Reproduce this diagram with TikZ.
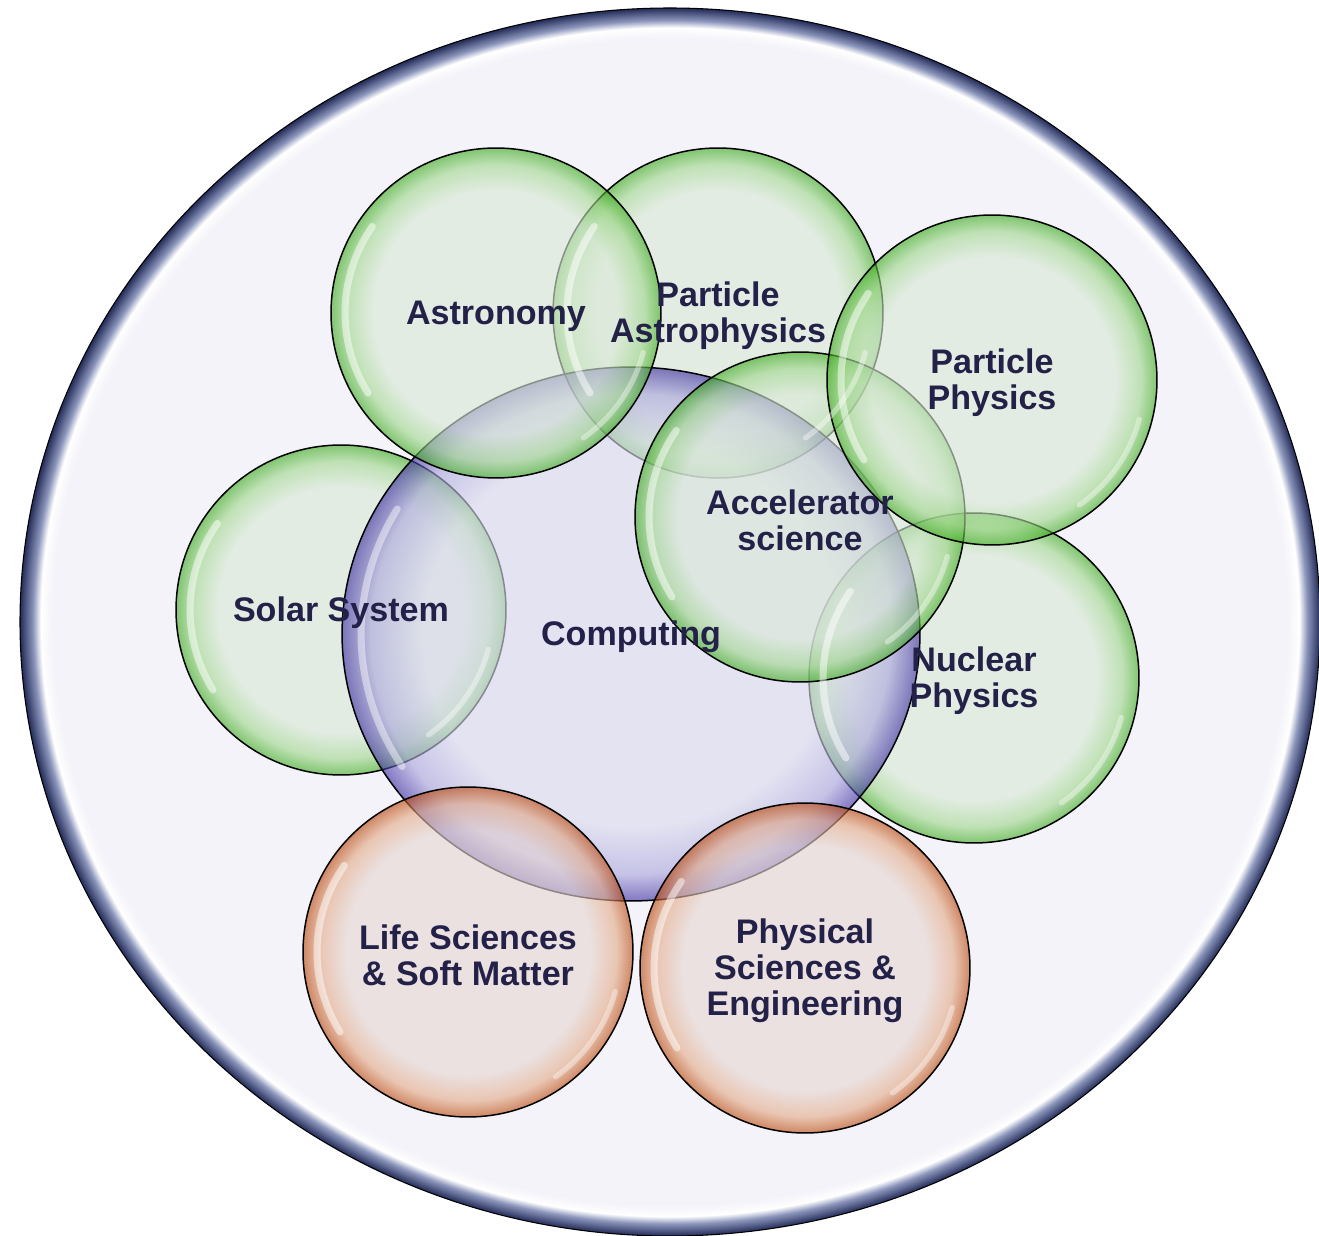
\documentclass[tikz,border=0pt]{standalone}
\usepackage{fontspec}
\setmainfont{Liberation Sans}
\usepackage{tikz}
\usetikzlibrary{shapes.geometric,calc}

\definecolor{labelink}{RGB}{35,33,72}
\definecolor{bgin}{RGB}{243,243,249}
\definecolor{ringmid}{RGB}{140,150,188}
\definecolor{ringdark}{RGB}{35,44,88}
\definecolor{greenin}{RGB}{218,233,215}
\definecolor{greenmid}{RGB}{160,215,140}
\definecolor{greenrim}{RGB}{60,170,30}
\definecolor{orangein}{RGB}{231,215,211}
\definecolor{orangemid}{RGB}{228,170,135}
\definecolor{orangerim}{RGB}{185,70,10}
\definecolor{purplein}{RGB}{218,218,238}
\definecolor{purplemid}{RGB}{170,165,220}
\definecolor{purplerim}{RGB}{60,45,160}

\pgfdeclareradialshading{outerglass}{\pgfpoint{0bp}{0bp}}{%
  color(0bp)=(bgin); color(23.75bp)=(bgin); color(24.2bp)=(white);
  color(24.5bp)=(ringmid); color(25bp)=(ringdark); color(50bp)=(ringdark)}
\pgfdeclareradialshading{greenglass}{\pgfpoint{0bp}{0bp}}{%
  color(0bp)=(greenin); color(18.5bp)=(greenin); color(22.5bp)=(greenmid);
  color(25bp)=(greenrim); color(50bp)=(greenrim)}
\pgfdeclareradialshading{orangeglass}{\pgfpoint{0bp}{0bp}}{%
  color(0bp)=(orangein); color(18.5bp)=(orangein); color(22.5bp)=(orangemid);
  color(25bp)=(orangerim); color(50bp)=(orangerim)}
\pgfdeclareradialshading{purpleglass}{\pgfpoint{0bp}{0bp}}{%
  color(0bp)=(purplein); color(18bp)=(purplein); color(22.5bp)=(purplemid);
  color(25bp)=(purplerim); color(50bp)=(purplerim)}

\tikzset{
  bubble/.style={circle, minimum size=6.6cm, inner sep=0pt, draw=black,
    line width=0.85pt, shade, fill opacity=0.62, draw opacity=1},
  green bubble/.style={bubble, shading=greenglass},
  orange bubble/.style={bubble, shading=orangeglass},
  tag/.style={text=labelink, align=center, inner sep=0pt, yshift=-0.06cm,
    font=\bfseries\fontsize{19.4}{20.5}\selectfont},
  glint/.style={white, line width=4pt, line cap=round, opacity=0.5}
}

\begin{document}
\begin{tikzpicture}[x=0.02cm, y=-0.02cm]

    \fill[white] (0,0) rectangle (1319,1236);
    \useasboundingbox (0,0) rectangle (1319,1236);

% the outer disc

    \draw[black, line width=0.6pt, shading=outerglass] (670,622) ellipse [x radius=650, y radius=614];

% the bubbles

    \node[green bubble] (solar)     at (341,610) {};
    \node[green bubble] (nuclear)   at (974,678) {};
    \node[green bubble] (partastro) at (718,313) {};

    \node[bubble, ellipse, shading=purpleglass, minimum width=11.56cm,
      minimum height=10.68cm] (computing) at (631,634) {};

    \node[green bubble] (astronomy) at (496,313) {};
    \node[green bubble] (accel)     at (800,517) {};
    \node[green bubble] (partphys)  at (992,380) {};

    \node[orange bubble] (life) at (468,952) {};
    \node[orange bubble] (phys) at (805,968) {};

% glossy glints
    \foreach \n in {solar,nuclear,partastro,astronomy,accel,partphys,life,phys}{
      \draw[glint] ($(\n.center)+(145:3.02cm)$) arc[start angle=145, end angle=212, radius=3.02cm];
      \draw[glint, opacity=0.4, line width=3pt] ($(\n.center)+(-55:3.05cm)$) arc[start angle=-55, end angle=-15, radius=3.05cm];
    }
    \draw[glint, opacity=0.45] ($(computing.center)+(150:5.4cm and 5cm)$)
      arc[start angle=150, end angle=212, x radius=5.4cm, y radius=5cm];

% the labels

    \node[tag] (solar-tag)     at (solar)     {Solar System};
    \node[tag] (nuclear-tag)   at (nuclear)   {Nuclear\\Physics};
    \node[tag] (partastro-tag) at (partastro) {Particle\\Astrophysics};
    \node[tag] (computing-tag) at (computing) {Computing};
    \node[tag] (astronomy-tag) at (astronomy) {Astronomy};
    \node[tag] (accel-tag)     at (accel)     {Accelerator\\science};
    \node[tag] (partphys-tag)  at (partphys)  {Particle\\Physics};
    \node[tag] (life-tag)      at (life)      {Life Sciences\\\& Soft Matter};
    \node[tag] (phys-tag)      at (phys)      {Physical\\Sciences \&\\Engineering};

\end{tikzpicture}
\end{document}
